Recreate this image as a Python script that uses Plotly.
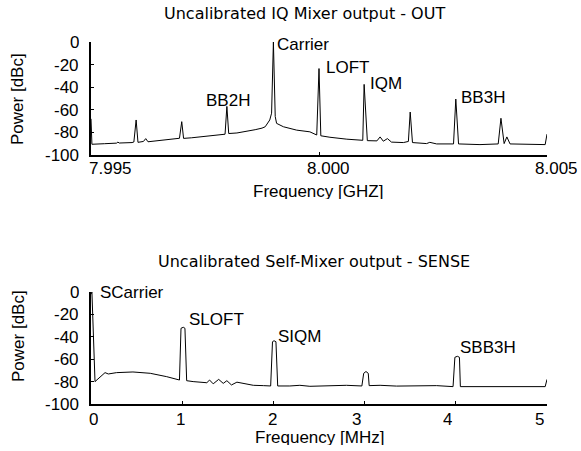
import plotly.graph_objects as go

W, H = 581, 451

# ---------------- data: top panel (IQ mixer output) ----------------
out_freq_ghz = [
    7.99500, 7.99502, 7.99530, 7.99556, 7.99559, 7.99562, 7.99590, 7.99594, 7.99599, 7.99603,
    7.99615, 7.99620, 7.99625, 7.99650, 7.99680, 7.99694, 7.99699, 7.99703, 7.99720, 7.99750,
    7.99770, 7.99790, 7.99794, 7.99798, 7.99802, 7.99820, 7.99840, 7.99860, 7.99875, 7.99882,
    7.99892, 7.99896, 7.99900, 7.99904, 7.99907, 7.99922, 7.99951, 7.99980, 7.99995, 8.00000,
    8.00004, 8.00024, 8.00061, 8.00094, 8.00096, 8.00099, 8.00106, 8.00127, 8.00134, 8.00141,
    8.00150, 8.00159, 8.00185, 8.00196, 8.00200, 8.00205, 8.00236, 8.00243, 8.00258, 8.00295,
    8.00300, 8.00306, 8.00353, 8.00393, 8.00399, 8.00406, 8.00412, 8.00419, 8.00463, 8.00496,
    8.00500,
]
out_power_dbc = [
    -68.0, -90.5, -90.0, -89.5, -88.6, -89.4, -89.0, -88.5, -69.0, -88.8,
    -88.0, -85.5, -88.3, -87.2, -86.0, -85.2, -70.5, -85.3, -84.8, -83.6,
    -83.0, -82.2, -81.6, -57.0, -81.0, -80.5, -79.2, -77.6, -76.2, -75.0,
    -69.0, -63.0, 0.0, -66.0, -72.0, -75.0, -78.0, -79.5, -82.3, -23.5,
    -83.0, -84.3, -86.0, -86.7, -87.0, -37.5, -87.3, -87.5, -84.0, -87.8,
    -85.5, -88.6, -89.0, -88.0, -62.0, -89.0, -89.9, -88.8, -90.2, -90.2,
    -50.5, -90.2, -90.8, -90.2, -67.5, -89.9, -84.0, -90.2, -90.8, -90.8,
    -81.5,
]

# ---------------- data: bottom panel (self-mixer output) ----------------
sense_freq_mhz = [
    0.000, 0.010, 0.044, 0.154, 0.190, 0.280, 0.460, 0.650, 0.830, 0.970,
    0.987, 1.012, 1.030, 1.049, 1.120, 1.190, 1.270, 1.300, 1.340, 1.400,
    1.450, 1.490, 1.540, 1.600, 1.670, 1.780, 1.890, 1.970, 1.990, 2.007,
    2.028, 2.047, 2.180, 2.290, 2.400, 2.510, 2.650, 2.800, 2.970, 2.990,
    3.015, 3.040, 3.050, 3.170, 3.350, 3.530, 3.790, 3.970, 3.990, 4.017,
    4.040, 4.050, 4.270, 4.450, 4.630, 4.800, 4.980, 5.000,
]
sense_power_dbc = [
    -2.0, 0.0, -80.0, -72.0, -73.2, -72.0, -71.4, -72.6, -75.6, -78.6,
    -32.4, -31.5, -32.4, -79.2, -80.0, -80.2, -81.0, -78.6, -82.0, -78.0,
    -81.6, -79.2, -83.0, -80.5, -81.5, -83.3, -83.6, -83.9, -44.4, -43.5,
    -44.4, -83.9, -83.9, -83.3, -84.2, -83.9, -83.6, -83.3, -83.9, -72.6,
    -71.0, -72.6, -83.6, -83.3, -84.0, -83.9, -83.6, -84.5, -58.3, -57.4,
    -58.3, -84.5, -84.5, -84.0, -83.9, -84.4, -84.5, -78.0,
]

# ---------------- peak labels ----------------
out_labels = ["Carrier", "LOFT", "IQM", "BB3H", "BB2H"]
out_label_x = [7.999035, 8.000116, 8.001081, 8.003070, 7.998004]
out_label_y = [-1.8, -23.0, -36.3, -49.1, -52.2]
out_label_anchor = ["left", "left", "left", "left", "center"]

sense_labels = ["SCarrier", "SLOFT", "SIQM", "SBB3H"]
sense_label_x = [0.073, 1.056, 2.028, 4.021]
sense_label_y = [-0.4, -24.7, -39.3, -49.6]

# ---------------- ticks ----------------
y_ticks = [0, -20, -40, -60, -80, -100]
y_tick_text = ["0", "-20", "-40", "-60", "-80", "-100"]
out_x_ticks = [7.995, 8.000, 8.005]
out_x_tick_text = ["7.995", "8.000", "8.005"]
out_x_label_shift = [19, 9, 9]
sense_x_ticks = [0, 1, 2, 3, 4, 5]
sense_x_tick_text = ["0", "1", "2", "3", "4", "5"]
sense_x_label_shift = [2, -2, -1, -8, -8, -8]

titles = ["Uncalibrated IQ Mixer output - OUT", "Uncalibrated Self-Mixer output - SENSE"]
x_titles = ["Frequency [GHZ]", "Frequency [MHz]"]
y_title = "Power [dBc]"

# ---------------- layout helpers ----------------
def px_x(p):
    return p / W


def px_y(p):
    return 1 - p / H


ARIAL = "Liberation Sans, Arial, Helvetica, sans-serif"
DEJAVU = "DejaVu Sans, sans-serif"
FS = 17

fig = go.Figure()
fig.add_trace(go.Scatter(x=out_freq_ghz, y=out_power_dbc, mode="lines",
                         line=dict(color="black", width=1), xaxis="x", yaxis="y",
                         showlegend=False, hoverinfo="skip"))
fig.add_trace(go.Scatter(x=sense_freq_mhz, y=sense_power_dbc, mode="lines",
                         line=dict(color="black", width=1), xaxis="x2", yaxis="y2",
                         showlegend=False, hoverinfo="skip"))

xdom = [px_x(91), px_x(547)]
axis_common = dict(showline=True, linecolor="black", linewidth=2, ticks="inside",
                   ticklen=3, tickwidth=1, tickcolor="black", showgrid=False,
                   zeroline=False, mirror=False, automargin=False)

fig.update_layout(
    width=W, height=H,
    margin=dict(l=0, r=0, t=0, b=0),
    paper_bgcolor="white", plot_bgcolor="white",
    showlegend=False,
    xaxis=dict(domain=xdom, range=[7.995, 8.005], anchor="y",
               tickvals=out_x_ticks, showticklabels=False, **axis_common),
    yaxis=dict(domain=[px_y(155), px_y(42)], range=[-100, 0], anchor="x",
               tickvals=y_ticks, showticklabels=False, **axis_common),
    xaxis2=dict(domain=xdom, range=[0, 5], anchor="y2",
                tickvals=sense_x_ticks, showticklabels=False, **axis_common),
    yaxis2=dict(domain=[px_y(404), px_y(292)], range=[-100, 0], anchor="x2",
                tickvals=y_ticks, showticklabels=False, **axis_common),
)

ann = []
# peak labels
for t, x, y, a in zip(out_labels, out_label_x, out_label_y, out_label_anchor):
    ann.append(dict(text=t, x=x, y=y, xref="x", yref="y", xanchor=a, yanchor="middle",
                    showarrow=False, font=dict(family=ARIAL, size=FS, color="black")))
for t, x, y in zip(sense_labels, sense_label_x, sense_label_y):
    ann.append(dict(text=t, x=x, y=y, xref="x2", yref="y2", xanchor="left", yanchor="middle",
                    showarrow=False, font=dict(family=ARIAL, size=FS, color="black")))
# y tick labels (right-aligned left of the axis)
for yref in ["y", "y2"]:
    for v, t in zip(y_ticks, y_tick_text):
        ann.append(dict(text=t, x=px_x(81), y=v, xref="paper", yref=yref,
                        xanchor="right", yanchor="middle", showarrow=False, height=14,
                        font=dict(family=ARIAL, size=FS, color="black")))
# x tick labels
for v, t, s in zip(out_x_ticks, out_x_tick_text, out_x_label_shift):
    ann.append(dict(text=t, x=v, y=px_y(168), xref="x", yref="paper", xshift=s,
                    xanchor="center", yanchor="middle", showarrow=False, height=14,
                    font=dict(family=ARIAL, size=FS, color="black")))
for v, t, s in zip(sense_x_ticks, sense_x_tick_text, sense_x_label_shift):
    ann.append(dict(text=t, x=v, y=px_y(419), xref="x2", yref="paper", xshift=s,
                    xanchor="center", yanchor="middle", showarrow=False, height=14,
                    font=dict(family=ARIAL, size=FS, color="black")))
# titles
for t, cx, cy in zip(titles, [304.5, 314], [14, 261]):
    ann.append(dict(text=t, x=px_x(cx), y=px_y(cy), xref="paper", yref="paper",
                    xanchor="center", yanchor="middle", showarrow=False,
                    font=dict(family=DEJAVU, size=16, color="black")))
# axis titles
for t, cx, cy in zip(x_titles, [318, 319], [190.5, 437]):
    ann.append(dict(text=t, x=px_x(cx), y=px_y(cy), xref="paper", yref="paper",
                    xanchor="center", yanchor="middle", showarrow=False, height=16,
                    font=dict(family=ARIAL, size=FS, color="black")))
for cy in [99, 336]:
    ann.append(dict(text=y_title, x=px_x(18), y=px_y(cy), xref="paper", yref="paper",
                    xanchor="center", yanchor="middle", textangle=-90, showarrow=False,
                    font=dict(family=ARIAL, size=FS, color="black")))

fig.update_layout(annotations=ann)
fig.write_html("out.html", config={"displayModeBar": False},
               post_script="document.body.style.margin='0';document.body.style.overflow='hidden';")
